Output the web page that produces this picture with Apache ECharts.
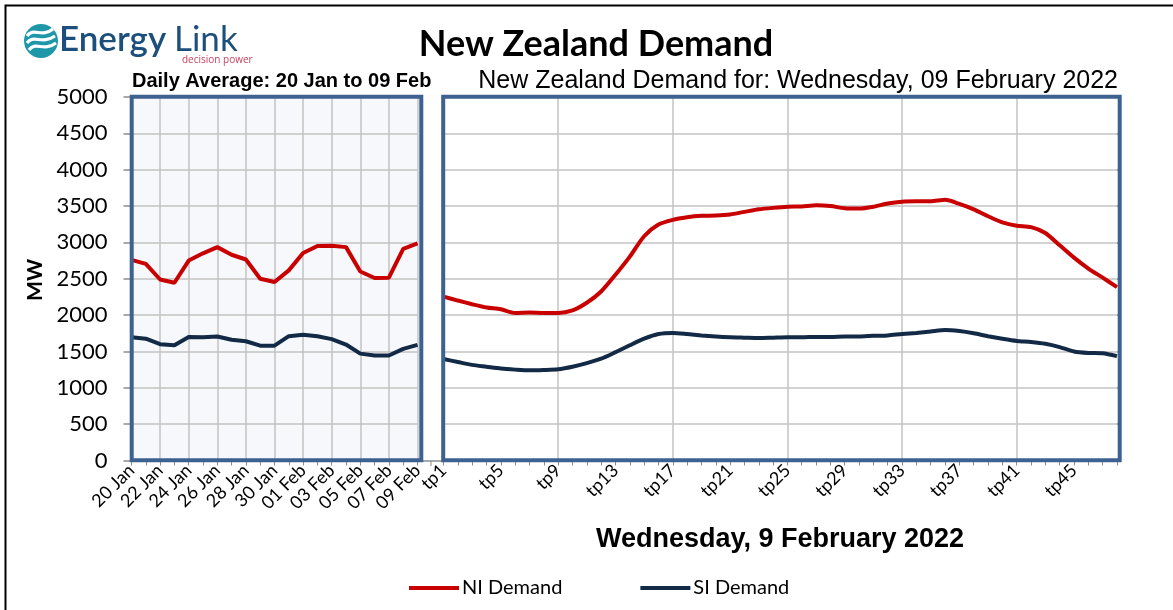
<!DOCTYPE html>
<html>
<head>
<meta charset="utf-8">
<title>New Zealand Demand</title>
<script src="https://cdn.jsdelivr.net/npm/echarts@6/dist/echarts.min.js"></script>
<style>
  html, body { margin: 0; padding: 0; background: #fff; }
  #chart { width: 1173px; height: 610px; }
</style>
</head>
<body>
<div id="chart"></div>
<script>
// daily averages, 20 Jan to 09 Feb
const dayLabels = ['20 Jan', '21 Jan', '22 Jan', '23 Jan', '24 Jan', '25 Jan', '26 Jan', '27 Jan', '28 Jan', '29 Jan', '30 Jan', '31 Jan',
  '01 Feb', '02 Feb', '03 Feb', '04 Feb', '05 Feb', '06 Feb', '07 Feb', '08 Feb', '09 Feb'];
const niDaily = [2760, 2705, 2490, 2445, 2750, 2850, 2935, 2830, 2765, 2500, 2455, 2615, 2855, 2950, 2955, 2935, 2600, 2510, 2515, 2910, 2985];
const siDaily = [1695, 1675, 1600, 1585, 1700, 1695, 1705, 1660, 1640, 1580, 1580, 1710, 1730, 1710, 1670, 1595, 1470, 1445, 1445, 1535, 1590];

// trading periods, Wednesday 9 Feb 2022
const tpLabels = [];
for (let i = 1; i <= 48; i++) tpLabels.push('tp' + i);
const niTp = [2255, 2200, 2150, 2105, 2080, 2030, 2035, 2030, 2030, 2065,
  2170, 2325, 2555, 2805, 3085, 3245, 3310, 3345, 3365, 3370,
  3385, 3420, 3455, 3475, 3490, 3495, 3510, 3500, 3470, 3465,
  3490, 3535, 3560, 3565, 3565, 3585, 3530, 3455, 3360, 3275,
  3230, 3210, 3130, 2960, 2790, 2640, 2515, 2385];
const siTp = [1395, 1355, 1315, 1290, 1265, 1250, 1240, 1245, 1255, 1290,
  1340, 1400, 1490, 1585, 1675, 1740, 1755, 1740, 1720, 1705,
  1695, 1690, 1685, 1690, 1695, 1695, 1700, 1700, 1705, 1705,
  1715, 1720, 1740, 1755, 1775, 1795, 1780, 1750, 1710, 1675,
  1645, 1630, 1605, 1560, 1500, 1480, 1475, 1435];

const NI_COLOR = '#c80000';
const SI_COLOR = '#132a46';
const FRAME = '#3d6190';
const GRID_LINE = '#c3c3c3';
const LABEL_FONT = 'Lato';

const chart = echarts.init(document.getElementById('chart'), null, { renderer: 'canvas' });

const catAxis = (idx, data, labelInt, splitInt) => ({
  type: 'category',
  gridIndex: idx,
  data: data,
  boundaryGap: false,
  axisLine: { show: true, lineStyle: { color: '#8c8c8c', width: 1.5 } },
  axisTick: { show: true, interval: 0, length: 5, lineStyle: { color: '#8c8c8c' } },
  axisLabel: { interval: labelInt, rotate: 45, fontSize: 18, fontFamily: LABEL_FONT, color: '#000', margin: 7 },
  splitLine: { show: true, interval: splitInt, lineStyle: { color: GRID_LINE, width: 1.5 } },
});

const valAxis = (idx, pos, showLabel) => ({
  type: 'value',
  gridIndex: idx,
  position: pos,
  min: 0,
  max: 5000,
  interval: 500,
  axisLine: { show: false },
  axisTick: { show: true, length: showLabel ? 8 : 4, lineStyle: { color: '#8c8c8c', width: 1.5 } },
  axisLabel: { show: showLabel, fontSize: 22, fontFamily: LABEL_FONT, color: '#000', margin: 24, formatter: v => String(v) },
  splitLine: { show: true, lineStyle: { color: GRID_LINE, width: 1.5 } },
});

const lineSeries = (name, color, xi, data, smooth) => ({
  name: name,
  type: 'line',
  xAxisIndex: xi,
  yAxisIndex: xi,
  data: data,
  smooth: smooth,
  symbol: 'none',
  lineStyle: { color: color, width: 4 },
  itemStyle: { color: color },
  z: 3,
});

chart.setOption({
  animation: false,
  grid: [
    { left: 131.5, top: 97, width: 286, height: 363.5, show: true, backgroundColor: '#f6f8fc', borderWidth: 0 },
    { left: 443.5, top: 97, width: 673.5, height: 363.5, show: false },
  ],
  xAxis: [catAxis(0, dayLabels, 1, 1), catAxis(1, tpLabels, 3, 7)],
  yAxis: [valAxis(0, 'left', true), valAxis(1, 'right', false)],
  legend: {
    data: ['NI Demand', 'SI Demand'],
    left: 404,
    top: 573,
    icon: 'rect',
    itemWidth: 50,
    itemHeight: 4,
    itemGap: 78,
    textStyle: { fontSize: 20, fontFamily: LABEL_FONT, color: '#000', padding: [0, 0, 0, -2] },
  },
  series: [
    lineSeries('NI Demand', NI_COLOR, 0, niDaily, false),
    lineSeries('SI Demand', SI_COLOR, 0, siDaily, false),
    lineSeries('NI Demand', NI_COLOR, 1, niTp, 0.25),
    lineSeries('SI Demand', SI_COLOR, 1, siTp, 0.25),
  ],
  graphic: [
    // outer border
    { type: 'polyline', z: 50, shape: { points: [[5.5, 640], [5.5, 5.5], [1180, 5.5]] }, style: { stroke: '#000', lineWidth: 2, fill: null } },
    // panel frames
    { type: 'rect', z: 60, shape: { x: 131.7, y: 96.7, width: 289.6, height: 363.6 }, style: { fill: null, stroke: FRAME, lineWidth: 4 } },
    { type: 'rect', z: 60, shape: { x: 443.2, y: 96.7, width: 676.5, height: 363.6 }, style: { fill: null, stroke: FRAME, lineWidth: 4 } },
    // axis bit in the gap between panels
    { type: 'line', z: 40, shape: { x1: 420, y1: 461, x2: 444, y2: 461 }, style: { stroke: '#8c8c8c', lineWidth: 1.5 } },
    { type: 'line', z: 40, shape: { x1: 431, y1: 461, x2: 431, y2: 466 }, style: { stroke: '#8c8c8c', lineWidth: 1 } },
    // logo
    { type: 'circle', z: 70, shape: { cx: 41, cy: 41, r: 17 }, style: { fill: '#1e98a9' } },
    { type: 'bezierCurve', z: 71, shape: { x1: 27, y1: 36, cpx1: 33, cpy1: 27, cpx2: 42, cpy2: 38, x2: 53, y2: 29 }, style: { stroke: '#fff', lineWidth: 3.2, fill: null } },
    { type: 'bezierCurve', z: 71, shape: { x1: 27, y1: 43, cpx1: 33, cpy1: 34, cpx2: 42, cpy2: 45, x2: 55, y2: 36 }, style: { stroke: '#fff', lineWidth: 3.2, fill: null } },
    { type: 'bezierCurve', z: 71, shape: { x1: 29, y1: 50, cpx1: 35, cpy1: 41, cpx2: 44, cpy2: 52, x2: 56, y2: 43 }, style: { stroke: '#fff', lineWidth: 3.2, fill: null } },
    { type: 'text', z: 70, x: 59, y: 40, style: { text: 'Energy', font: '600 35px Lato', fill: '#1d4f7c', verticalAlign: 'middle' } },
    { type: 'text', z: 70, x: 174, y: 40, style: { text: 'Link', font: '400 35px Lato', fill: '#1d4f7c', verticalAlign: 'middle' } },
    { type: 'text', z: 70, x: 182, y: 60, style: { text: 'decision power', font: '10px "Open Sans"', fill: '#c8415e', verticalAlign: 'middle' } },
    // titles
    { type: 'text', z: 70, x: 596, y: 44, style: { text: 'New Zealand Demand', font: 'bold 36px Lato', fill: '#000', align: 'center', verticalAlign: 'middle' } },
    { type: 'text', z: 70, x: 132, y: 81, style: { text: 'Daily Average: 20 Jan to 09 Feb', font: 'bold 20px "Liberation Sans"', fill: '#000', verticalAlign: 'middle' } },
    { type: 'text', z: 70, x: 1118, y: 81, style: { text: 'New Zealand Demand for: Wednesday, 09 February 2022', font: '25px "Liberation Sans"', fill: '#000', align: 'right', verticalAlign: 'middle' } },
    { type: 'text', z: 70, x: 780, y: 540, style: { text: 'Wednesday, 9 February 2022', font: 'bold 27px "Liberation Sans"', fill: '#000', align: 'center', verticalAlign: 'middle' } },
    { type: 'text', z: 70, x: 35, y: 280, rotation: Math.PI / 2, style: { text: 'MW', font: 'bold 21px Lato', fill: '#000', align: 'center', verticalAlign: 'middle' } },
  ],
});

window.addEventListener('resize', () => chart.resize());
</script>
</body>
</html>
